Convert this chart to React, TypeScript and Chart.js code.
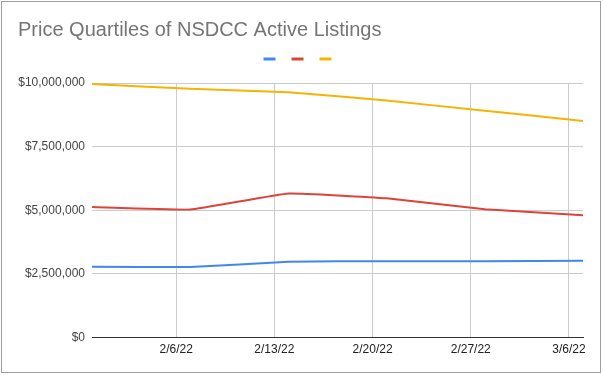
import React, { useEffect, useRef } from "react";
import { Chart, registerables } from "chart.js";

Chart.register(...registerables);

const titleText = "Price Quartiles of NSDCC Active Listings";
const dates = ["2022-01-31", "2022-02-07", "2022-02-14", "2022-02-21", "2022-02-28", "2022-03-07"];
const lowerQuartile = [2780000, 2770000, 2980000, 3000000, 3000000, 3020000];
const median = [5130000, 5030000, 5660000, 5470000, 5040000, 4810000];
const upperQuartile = [9960000, 9770000, 9640000, 9310000, 8910000, 8510000];
const seriesNames = ["25th percentile", "Median", "75th percentile"];
const seriesColors = ["#4285F4", "#DB4437", "#F4B400"];
const tickDates = ["2022-02-06", "2022-02-13", "2022-02-20", "2022-02-27", "2022-03-06"];
const tickLabels = ["2/6/22", "2/13/22", "2/20/22", "2/27/22", "3/6/22"];
const yTicks = [0, 2500000, 5000000, 7500000, 10000000];

const dayNum = (s: string) => {
  const [y, m, d] = s.split("-").map(Number);
  return Math.round(Date.UTC(y, m - 1, d) / 86400000);
};

const FONT = 'Arial, "Liberation Sans", sans-serif';

export default function App() {
  const ref = useRef<HTMLCanvasElement | null>(null);

  useEffect(() => {
    if (!ref.current) return;
    const xs = dates.map(dayNum);
    const tickXs = tickDates.map(dayNum);
    const series = [lowerQuartile, median, upperQuartile];

    const legendGap = {
      id: "legendGap",
      afterInit(chart: any) {
        const legend = chart.legend;
        if (!legend) return;
        const fit = legend.fit;
        legend.fit = function () {
          fit.call(this);
          this.height += 8;
        };
      },
    };

    const chart = new Chart(ref.current, {
      type: "line",
      data: {
        datasets: series.map((vals, i) => ({
          label: seriesNames[i],
          data: vals.map((v, j) => ({ x: xs[j], y: v })),
          borderColor: seriesColors[i],
          backgroundColor: seriesColors[i],
          borderWidth: 2,
          pointRadius: 0,
          tension: 0.1,
          fill: false,
        })),
      },
      options: {
        animation: false,
        responsive: false,
        devicePixelRatio: 1,
        layout: { padding: { left: 18, right: 20, top: 0, bottom: 13 } },
        plugins: {
          title: {
            display: true,
            text: titleText,
            align: "start",
            color: "#757575",
            font: { family: FONT, size: 20, weight: "normal" },
            padding: { top: 18, bottom: 1 },
          },
          legend: {
            display: true,
            position: "top",
            align: "center",
            labels: {
              boxWidth: 12,
              boxHeight: 3,
              padding: 10,
              font: { family: FONT, size: 12 },
              generateLabels: (c: any) =>
                c.data.datasets.map((ds: any, i: number) => ({
                  text: "",
                  fillStyle: ds.borderColor,
                  strokeStyle: ds.borderColor,
                  lineWidth: 0,
                  datasetIndex: i,
                  hidden: false,
                })),
            },
          },
          tooltip: { enabled: false },
        },
        scales: {
          x: {
            type: "linear",
            min: xs[0],
            max: xs[xs.length - 1],
            afterBuildTicks: (scale: any) => {
              scale.ticks = tickXs.map((v) => ({ value: v }));
            },
            ticks: {
              autoSkip: false,
              maxRotation: 0,
              padding: 5,
              color: "#222",
              font: { family: FONT, size: 12 },
              callback: (v: any) => {
                const idx = tickXs.indexOf(Number(v));
                return idx >= 0 ? tickLabels[idx] : "";
              },
            },
            grid: { color: "#cccccc", drawTicks: false, lineWidth: 1 },
            border: { display: true, color: "#333333", width: 1 },
          },
          y: {
            min: yTicks[0],
            max: yTicks[yTicks.length - 1],
            afterBuildTicks: (scale: any) => {
              scale.ticks = yTicks.map((v) => ({ value: v }));
            },
            afterFit: (scale: any) => {
              scale.width = 74;
            },
            ticks: {
              padding: 7,
              color: "#444",
              font: { family: FONT, size: 12 },
              callback: (v: any) => "$" + Number(v).toLocaleString("en-US"),
            },
            grid: { color: "#cccccc", drawTicks: false, lineWidth: 1 },
            border: { display: false },
          },
        },
      },
      plugins: [legendGap],
    } as any);
    return () => chart.destroy();
  }, []);

  return (
    <div style={{ position: "fixed", left: 0, top: 0, width: 603, height: 375, background: "#fff" }}>
      <canvas ref={ref} width={603} height={375} style={{ display: "block" }} />
      <div
        style={{
          position: "absolute",
          left: 1,
          top: 1,
          width: 600,
          height: 372,
          boxSizing: "border-box",
          border: "1px solid #9e9e9e",
          pointerEvents: "none",
        }}
      />
    </div>
  );
}
